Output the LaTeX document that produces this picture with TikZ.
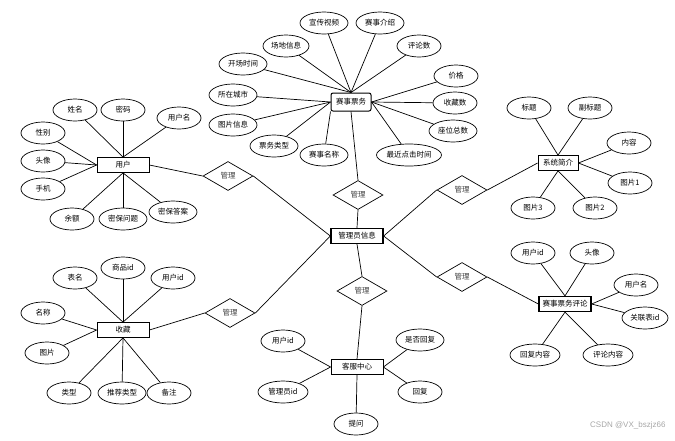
\documentclass[tikz,border=0pt]{standalone}
\usepackage{fontspec}
\setmainfont{Noto Sans CJK SC}
\newfontfamily\wmfont{Liberation Sans}
\usetikzlibrary{shapes.geometric}
\tikzset{
  attr/.style={ellipse, draw=black, line width=0.7pt, fill=white, minimum width=44pt, minimum height=22pt, inner sep=0pt, font=\fontsize{7.5}{8}\selectfont},
  ent/.style={rectangle, draw=black, line width=0.8pt, fill=white, minimum width=52pt, minimum height=15pt, inner sep=1pt, font=\fontsize{7.5}{8}\selectfont},
  entb/.style={ent, line width=1.3pt},
  rel/.style={diamond, draw=black, line width=0.7pt, fill=white, minimum width=50pt, minimum height=29pt, inner sep=0pt, font=\fontsize{7.5}{8}\selectfont, text=black!75},
  con/.style={draw=black, line width=0.7pt}
}
\begin{document}
\begin{tikzpicture}[x=1pt,y=-1pt]
\useasboundingbox (0,0) rectangle (675,440);
% ---- central and relations
\node[entb] (adm) at (357,236) {管理员信息};
\node[rel] (r1) at (358,195) {管理};
\node[rel] (r2) at (228,176) {管理};
\node[rel] (r3) at (462,190) {管理};
\node[rel] (r4) at (462,277) {管理};
\node[rel] (r5) at (230,313) {管理};
\node[rel] (r6) at (362,291) {管理};
% ---- entities
\node[ent, minimum width=40pt, minimum height=18pt, rounded corners=2pt, line width=1pt] (ss) at (351,102) {赛事票务};
\node[ent] (user) at (123,165) {用户};
\node[ent, minimum width=40pt] (xt) at (558,163) {系统简介};
\node[entb] (pl) at (565,304) {赛事票务评论};
\node[ent] (sc) at (123,330) {收藏};
\node[ent] (kf) at (357,367) {客服中心};
% ---- relation connectors
\draw[con] (ss.south) -- (r1.north);
\draw[con] (r1.south) -- (adm.north);
\draw[con] (user.east) -- (r2.west);
\draw[con] (r2.east) -- (adm.west);
\draw[con] (adm.east) -- (r3.west);
\draw[con] (r3.east) -- (xt.west);
\draw[con] (adm.east) -- (r4.west);
\draw[con] (r4.east) -- (pl.west);
\draw[con] (sc.east) -- (r5.west);
\draw[con] (r5.east) -- (adm.west);
\draw[con] (adm.south) -- (r6.north);
\draw[con] (r6.south) -- (kf.north);
% ---- 赛事票务 attributes
\node[attr, minimum width=48pt] (a1) at (324,23) {宣传视频};
\node[attr, minimum width=48pt] (a2) at (380,23) {赛事介绍};
\node[attr, minimum width=46pt] (a3) at (286,46) {场地信息};
\node[attr] (a4) at (419,46) {评论数};
\node[attr, minimum width=48pt] (a5) at (243,64) {开场时间};
\node[attr] (a6) at (456,76) {价格};
\node[attr, minimum width=48pt] (a7) at (233,95) {所在城市};
\node[attr] (a8) at (455,103) {收藏数};
\node[attr, minimum width=48pt] (a9) at (233,125) {图片信息};
\node[attr, minimum width=48pt] (a10) at (453,131) {座位总数};
\node[attr, minimum width=48pt] (a11) at (274,146) {票务类型};
\node[attr, minimum width=48pt] (a12) at (324,155) {赛事名称};
\node[attr, minimum width=65pt] (a13) at (409,155) {最近点击时间};
\foreach \a in {a1,a2,a3,a4,a5} \draw[con] (\a) -- (ss.north);
\foreach \a in {a7,a9,a11} \draw[con] (\a) -- (ss.west);
\draw[con] (a12) -- (ss.south west);
\foreach \a in {a6,a8,a10,a13} \draw[con] (\a) -- (ss.east);
% ---- 用户 attributes
\node[attr] (u1) at (75,110) {姓名};
\node[attr] (u2) at (123,110) {密码};
\node[attr] (u3) at (179,118) {用户名};
\node[attr] (u4) at (43,133) {性别};
\node[attr] (u5) at (43,161) {头像};
\node[attr] (u6) at (43,189) {手机};
\node[attr] (u7) at (72,219) {余额};
\node[attr, minimum width=48pt] (u8) at (123,219) {密保问题};
\node[attr, minimum width=48pt] (u9) at (173,212) {密保答案};
\foreach \a in {u1,u2,u3} \draw[con] (\a) -- (user.north);
\foreach \a in {u4,u5,u6} \draw[con] (\a) -- (user.west);
\foreach \a in {u7,u8,u9} \draw[con] (\a) -- (user.south);
% ---- 系统简介 attributes
\node[attr] (x1) at (529,108) {标题};
\node[attr] (x2) at (590,108) {副标题};
\node[attr] (x3) at (629,143) {内容};
\node[attr] (x4) at (630,183) {图片1};
\node[attr] (x5) at (533,208) {图片3};
\node[attr] (x6) at (595,208) {图片2};
\foreach \a in {x1,x2} \draw[con] (\a) -- (xt.north);
\foreach \a in {x3,x4} \draw[con] (\a) -- (xt.east);
\foreach \a in {x5,x6} \draw[con] (\a) -- (xt.south);
% ---- 赛事票务评论 attributes
\node[attr] (p1) at (533,253) {用户id};
\node[attr] (p2) at (592,253) {头像};
\node[attr] (p3) at (636,285) {用户名};
\node[attr, minimum width=46pt] (p4) at (645,318) {关联表id};
\node[attr, minimum width=50pt] (p5) at (535,355) {回复内容};
\node[attr, minimum width=50pt] (p6) at (608,355) {评论内容};
\foreach \a in {p1,p2} \draw[con] (\a) -- (pl.north);
\foreach \a in {p3,p4} \draw[con] (\a) -- (pl.east);
\foreach \a in {p5,p6} \draw[con] (\a) -- (pl.south);
% ---- 收藏 attributes
\node[attr] (c1) at (75,278) {表名};
\node[attr] (c2) at (123,268) {商品id};
\node[attr] (c3) at (173,278) {用户id};
\node[attr] (c4) at (43,313) {名称};
\node[attr] (c5) at (47,353) {图片};
\node[attr] (c6) at (69,393) {类型};
\node[attr, minimum width=48pt] (c7) at (122,393) {推荐类型};
\node[attr] (c8) at (169,393) {备注};
\foreach \a in {c1,c2,c3} \draw[con] (\a) -- (sc.north);
\foreach \a in {c4,c5} \draw[con] (\a) -- (sc.west);
\foreach \a in {c6,c7,c8} \draw[con] (\a) -- (sc.south);
% ---- 客服中心 attributes
\node[attr] (k1) at (283,341) {用户id};
\node[attr, minimum width=50pt] (k2) at (283,392) {管理员id};
\node[attr, minimum width=48pt] (k3) at (420,340) {是否回复};
\node[attr] (k4) at (420,392) {回复};
\node[attr] (k5) at (356,424) {提问};
\foreach \a in {k1,k2} \draw[con] (\a) -- (kf.west);
\foreach \a in {k3,k4} \draw[con] (\a) -- (kf.east);
\draw[con] (k5) -- (kf.south);
% ---- watermark
\node[font=\wmfont\fontsize{8}{9}\selectfont, text=black!35, anchor=east] (wm) at (669,425) {CSDN @VX\_bszjz66};
\end{tikzpicture}
\end{document}
